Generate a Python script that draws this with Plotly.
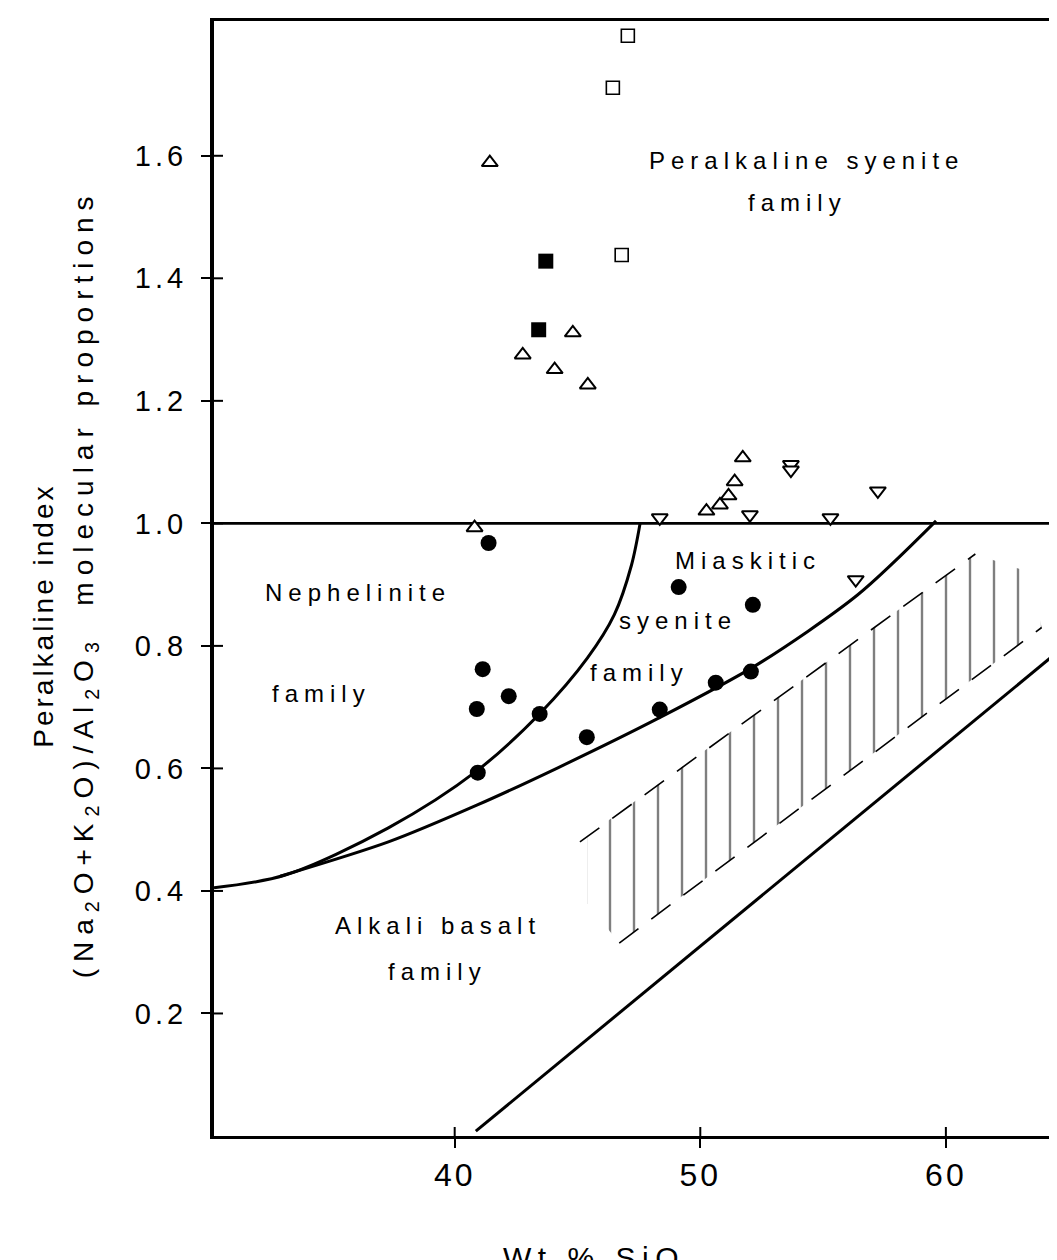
import plotly.graph_objects as go

# ---------------- axes ----------------
X_RANGE = [30.2, 64.85]
Y_RANGE = [0.0, 1.82]
x_tickvals = [40, 50, 60]
x_ticktext = ["40", "50", "60"]
y_tickvals = [0.2, 0.4, 0.6, 0.8, 1.0, 1.2, 1.4, 1.6]
y_ticktext = ["0.2", "0.4", "0.6", "0.8", "1.0", "1.2", "1.4", "1.6"]

# ---------------- data points ----------------
circle_x = [41.38, 41.14, 42.20, 40.90, 43.46, 45.38, 40.94, 48.35, 49.12, 52.14, 50.63, 52.06]
circle_y = [0.968, 0.762, 0.718, 0.697, 0.689, 0.651, 0.593, 0.696, 0.896, 0.867, 0.740, 0.758]

sq_filled_x = [43.71, 43.42]
sq_filled_y = [1.428, 1.316]

sq_open_x = [47.05, 46.44, 46.80]
sq_open_y = [1.796, 1.711, 1.438]

tri_up_x = [41.43, 44.81, 42.77, 44.07, 45.42, 40.81, 51.73, 51.40, 51.15, 50.80, 50.25]
tri_up_y = [1.589, 1.311, 1.275, 1.251, 1.226, 0.993, 1.107, 1.068, 1.045, 1.030, 1.020]

tri_down_x = [53.69, 53.69, 48.35, 52.02, 55.30, 57.23, 56.33]
tri_down_y = [1.096, 1.087, 1.009, 1.014, 1.009, 1.053, 0.908]

# ---------------- boundary lines ----------------
hline_x = [30.2, 64.85]
hline_y = [1.0, 1.0]

neph_curve_x = [30.2, 33.1, 37.3, 40.9, 43.5, 45.4, 46.5, 47.2, 47.55]
neph_curve_y = [0.405, 0.426, 0.503, 0.596, 0.691, 0.780, 0.851, 0.932, 1.0]

miask_curve_x = [32.9, 37.3, 40.9, 44.2, 48.3, 52.3, 56.4, 59.6]
miask_curve_y = [0.424, 0.480, 0.540, 0.601, 0.682, 0.769, 0.883, 1.004]

straight_x = [40.86, 64.85]
straight_y = [0.008, 0.800]

# hatched band (outline and dashed edges)
band_x = [45.4, 61.2, 63.4, 63.9, 46.7, 45.4]
band_y = [0.49, 0.95, 0.92, 0.83, 0.315, 0.38]
band_top_x = [45.1, 61.2]
band_top_y = [0.48, 0.95]
band_bot_x = [46.7, 63.9]
band_bot_y = [0.315, 0.83]

# ---------------- region labels ----------------
label_text = ["Peralkaline syenite", "family", "Miaskitic", "syenite", "family",
              "Nephelinite", "family", "Alkali basalt", "family"]
label_x = [54.34, 53.97, 51.93, 49.08, 47.54, 36.05, 34.58, 39.31, 39.30]
label_y = [1.593, 1.523, 0.939, 0.842, 0.756, 0.887, 0.723, 0.343, 0.269]

FONT = "Liberation Sans, Arial, Helvetica, sans-serif"


def sp(text, px):
    return f"<span style='letter-spacing:{px}px'>{text}</span>"


fig = go.Figure()

# hatched band
fig.add_trace(go.Scatter(
    x=band_x, y=band_y, mode="lines", fill="toself",
    line=dict(width=0, color="rgba(0,0,0,0)"),
    fillcolor="white",
    fillpattern=dict(shape="|", size=24, solidity=0.1, fgcolor="black", bgcolor="white"),
    hoverinfo="skip", showlegend=False))
fig.add_trace(go.Scatter(x=band_top_x, y=band_top_y, mode="lines",
                         line=dict(color="black", width=1.6, dash="24px,16px"),
                         showlegend=False))
fig.add_trace(go.Scatter(x=band_bot_x, y=band_bot_y, mode="lines",
                         line=dict(color="black", width=1.6, dash="24px,16px"),
                         showlegend=False))

# boundary lines
fig.add_trace(go.Scatter(x=hline_x, y=hline_y, mode="lines",
                         line=dict(color="black", width=2.6), showlegend=False))
fig.add_trace(go.Scatter(x=neph_curve_x, y=neph_curve_y, mode="lines",
                         line=dict(color="black", width=3, shape="spline", smoothing=0.9),
                         showlegend=False))
fig.add_trace(go.Scatter(x=miask_curve_x, y=miask_curve_y, mode="lines",
                         line=dict(color="black", width=3, shape="spline", smoothing=0.8),
                         showlegend=False))
fig.add_trace(go.Scatter(x=straight_x, y=straight_y, mode="lines",
                         line=dict(color="black", width=3), showlegend=False))

# markers
fig.add_trace(go.Scatter(x=tri_up_x, y=tri_up_y, mode="markers",
                         marker=dict(symbol="triangle-up", size=14, color="white",
                                     line=dict(color="black", width=2)),
                         showlegend=False))
fig.add_trace(go.Scatter(x=tri_down_x, y=tri_down_y, mode="markers",
                         marker=dict(symbol="triangle-down", size=14, color="white",
                                     line=dict(color="black", width=2)),
                         showlegend=False))
fig.add_trace(go.Scatter(x=sq_open_x, y=sq_open_y, mode="markers",
                         marker=dict(symbol="square", size=13, color="white",
                                     line=dict(color="black", width=1.6)),
                         showlegend=False))
fig.add_trace(go.Scatter(x=sq_filled_x, y=sq_filled_y, mode="markers",
                         marker=dict(symbol="square", size=15, color="black",
                                     line=dict(color="black", width=0)),
                         showlegend=False))
fig.add_trace(go.Scatter(x=circle_x, y=circle_y, mode="markers",
                         marker=dict(symbol="circle", size=16, color="black",
                                     line=dict(color="black", width=0)),
                         showlegend=False))

# inner halves of the crossing ticks (outer halves come from the axes)
for v in x_tickvals:
    fig.add_shape(type="line", xref="x", yref="y", x0=v, x1=v,
                  ysizemode="pixel", yanchor=Y_RANGE[0], y0=0, y1=9,
                  line=dict(color="black", width=2))
for v in y_tickvals:
    fig.add_shape(type="line", xref="x", yref="y", y0=v, y1=v,
                  xsizemode="pixel", xanchor=X_RANGE[0], x0=0, x1=9,
                  line=dict(color="black", width=2))

# region labels
for t, x, y in zip(label_text, label_x, label_y):
    fig.add_annotation(x=x, y=y, xref="x", yref="y", text=sp(t, 6), showarrow=False,
                       font=dict(family=FONT, size=24, color="black"),
                       xanchor="center", yanchor="middle")

# axis titles
fig.add_annotation(x=-0.2, y=0.4664, xref="paper", yref="paper",
                   text=sp("Peralkaline index", 3), textangle=-90, showarrow=False,
                   font=dict(family=FONT, size=28, color="black"),
                   xanchor="center", yanchor="middle")
fig.add_annotation(x=-0.15, y=0.4951, xref="paper", yref="paper",
                   text=sp("(Na<sub>2</sub>O+K<sub>2</sub>O)/Al<sub>2</sub>O<sub>3</sub>&nbsp;&nbsp;molecular proportions", 7),
                   textangle=-90, showarrow=False,
                   font=dict(family=FONT, size=28, color="black"),
                   xanchor="center", yanchor="middle")
fig.add_annotation(x=0.337, y=-0.0925, xref="paper", yref="paper",
                   text=sp("Wt.% SiO<sub>2</sub>", 6.5), showarrow=False,
                   font=dict(family=FONT, size=30, color="black"),
                   xanchor="left", yanchor="top")

axis_common = dict(showgrid=False, zeroline=False, color="black")

fig.update_layout(
    width=1057, height=1260,
    margin=dict(l=206, r=0, t=13, b=132),
    plot_bgcolor="white", paper_bgcolor="white",
    showlegend=False,
    xaxis=dict(range=X_RANGE, showline=True, linewidth=3, linecolor="black", mirror=True,
               ticks="outside", ticklen=9, tickwidth=2, tickcolor="black",
               tickmode="array", tickvals=x_tickvals,
               ticktext=[sp(t, 3) for t in x_ticktext],
               tickfont=dict(family=FONT, size=32, color="black"),
               ticklabelstandoff=0, **axis_common),
    yaxis=dict(range=Y_RANGE, showline=True, linewidth=4, linecolor="black", mirror=False,
               ticks="outside", ticklen=9, tickwidth=2, tickcolor="black",
               tickmode="array", tickvals=y_tickvals,
               ticktext=[sp(t, 4) for t in y_ticktext],
               tickfont=dict(family=FONT, size=29, color="black"),
               ticklabelstandoff=8, **axis_common),
)

fig.write_html("out.html")
